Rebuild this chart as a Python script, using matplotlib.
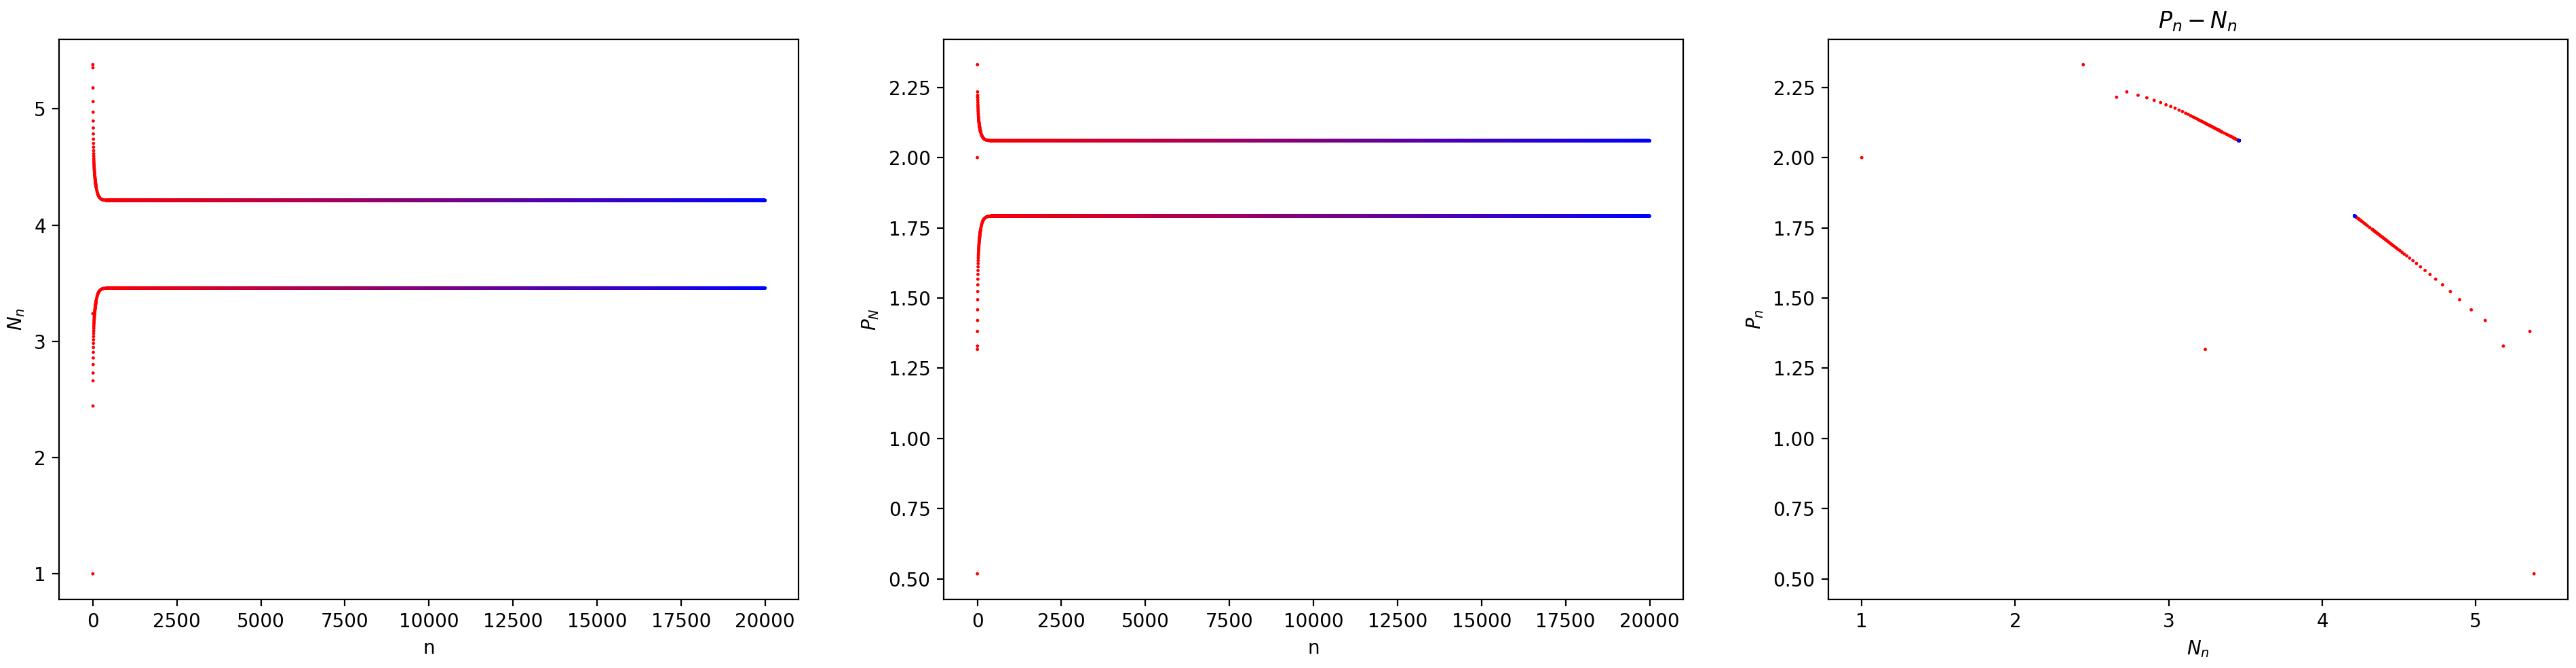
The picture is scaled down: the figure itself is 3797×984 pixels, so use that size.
import matplotlib
matplotlib.use('Agg')
import matplotlib.pyplot as plt
import numpy as np
from matplotlib.colors import LinearSegmentedColormap

# iterations with N on the low branch (even n): transient
n_lo = list(range(0, 100, 2)) + list(range(108, 200, 10)) + list(range(218, 400, 20))
N_lo = [1.000, 3.238, 2.443, 2.660, 2.727, 2.800, 2.857, 2.905, 2.947, 2.982,
        3.013, 3.041, 3.067, 3.089, 3.110, 3.127, 3.143, 3.157, 3.169, 3.180,
        3.190, 3.199, 3.207, 3.215, 3.222, 3.229, 3.236, 3.243, 3.249, 3.255,
        3.261, 3.267, 3.273, 3.279, 3.283, 3.289, 3.294, 3.299, 3.304, 3.309,
        3.313, 3.318, 3.321, 3.325, 3.329, 3.333, 3.337, 3.341, 3.344, 3.348,
        3.363, 3.377, 3.388, 3.398, 3.407, 3.414, 3.420, 3.425, 3.430, 3.434,
        3.440, 3.445, 3.448, 3.451, 3.453, 3.454, 3.455, 3.456, 3.456, 3.457]
P_lo = [2.000, 1.317, 2.331, 2.215, 2.234, 2.222, 2.213, 2.204, 2.196, 2.188,
        2.182, 2.176, 2.169, 2.164, 2.158, 2.154, 2.149, 2.145, 2.142, 2.139,
        2.136, 2.133, 2.131, 2.129, 2.127, 2.125, 2.123, 2.121, 2.119, 2.117,
        2.116, 2.114, 2.112, 2.111, 2.110, 2.108, 2.106, 2.105, 2.104, 2.102,
        2.101, 2.100, 2.099, 2.098, 2.097, 2.095, 2.094, 2.093, 2.092, 2.091,
        2.087, 2.083, 2.080, 2.077, 2.075, 2.073, 2.071, 2.069, 2.068, 2.067,
        2.065, 2.064, 2.063, 2.062, 2.062, 2.061, 2.061, 2.061, 2.060, 2.060]

# iterations with N on the high branch (odd n)
n_hi = list(range(1, 100, 2)) + list(range(109, 200, 10)) + list(range(219, 400, 20))
N_hi = [5.380, 5.353, 5.180, 5.062, 4.971, 4.895, 4.835, 4.784, 4.739, 4.702,
        4.670, 4.640, 4.614, 4.591, 4.569, 4.551, 4.535, 4.521, 4.508, 4.497,
        4.487, 4.478, 4.469, 4.461, 4.454, 4.447, 4.440, 4.433, 4.426, 4.420,
        4.414, 4.408, 4.402, 4.396, 4.391, 4.385, 4.380, 4.375, 4.370, 4.365,
        4.361, 4.356, 4.352, 4.348, 4.344, 4.340, 4.336, 4.332, 4.329, 4.325,
        4.309, 4.295, 4.284, 4.274, 4.265, 4.257, 4.251, 4.245, 4.241, 4.237,
        4.230, 4.225, 4.222, 4.219, 4.217, 4.216, 4.215, 4.214, 4.214, 4.213]
P_hi = [0.518, 1.381, 1.329, 1.420, 1.458, 1.494, 1.523, 1.547, 1.567, 1.584,
        1.598, 1.611, 1.623, 1.633, 1.642, 1.650, 1.656, 1.662, 1.668, 1.672,
        1.676, 1.680, 1.684, 1.687, 1.690, 1.693, 1.696, 1.699, 1.702, 1.705,
        1.707, 1.710, 1.712, 1.715, 1.717, 1.719, 1.721, 1.724, 1.726, 1.728,
        1.729, 1.732, 1.733, 1.735, 1.737, 1.738, 1.740, 1.742, 1.743, 1.745,
        1.751, 1.757, 1.762, 1.766, 1.770, 1.773, 1.776, 1.778, 1.780, 1.782,
        1.784, 1.786, 1.788, 1.789, 1.790, 1.790, 1.791, 1.791, 1.791, 1.791]

# settled period-2 cycle (low, high) and run length
N_cycle = [3.458, 4.212]
P_cycle = [2.060, 1.792]
n_steps = 20000

# steady part of the run
n_lo_s = np.arange(400, n_steps, 2)
n_hi_s = np.arange(401, n_steps, 2)
n = np.concatenate([n_lo, n_hi, n_lo_s, n_hi_s])
N = np.concatenate([N_lo, N_hi, np.full(len(n_lo_s), N_cycle[0]),
                    np.full(len(n_hi_s), N_cycle[1])])
P = np.concatenate([P_lo, P_hi, np.full(len(n_lo_s), P_cycle[0]),
                    np.full(len(n_hi_s), P_cycle[1])])
order = np.argsort(n, kind='stable')
n, N, P = n[order], N[order], P[order]

cmap = LinearSegmentedColormap.from_list('rb', ['red', 'blue'])
kw = dict(c=n, cmap=cmap, vmin=0, vmax=n.max(), s=3, linewidths=0)

fig = plt.figure(figsize=(3797 / 200, 984 / 200), dpi=200)
W, H = 3797.0, 984.0
lefts = [87.3, 1391.0, 2694.7]
axw, axh, axb = 1090.0, 825.0, 984.0 - 882.7
axes = [fig.add_axes([l / W, axb / H, axw / W, axh / H]) for l in lefts]

ax1, ax2, ax3 = axes
ax1.scatter(n, N, **kw)
ax1.set_xlabel('n')
ax1.set_ylabel('$N_n$')

ax2.scatter(n, P, **kw)
ax2.set_xlabel('n')
ax2.set_ylabel('$P_N$')

ax3.scatter(N, P, **kw)
ax3.set_xlabel('$N_n$')
ax3.set_ylabel('$P_n$')
ax3.set_title('$P_n - N_n$')

fig.savefig('out.png', dpi=200)
